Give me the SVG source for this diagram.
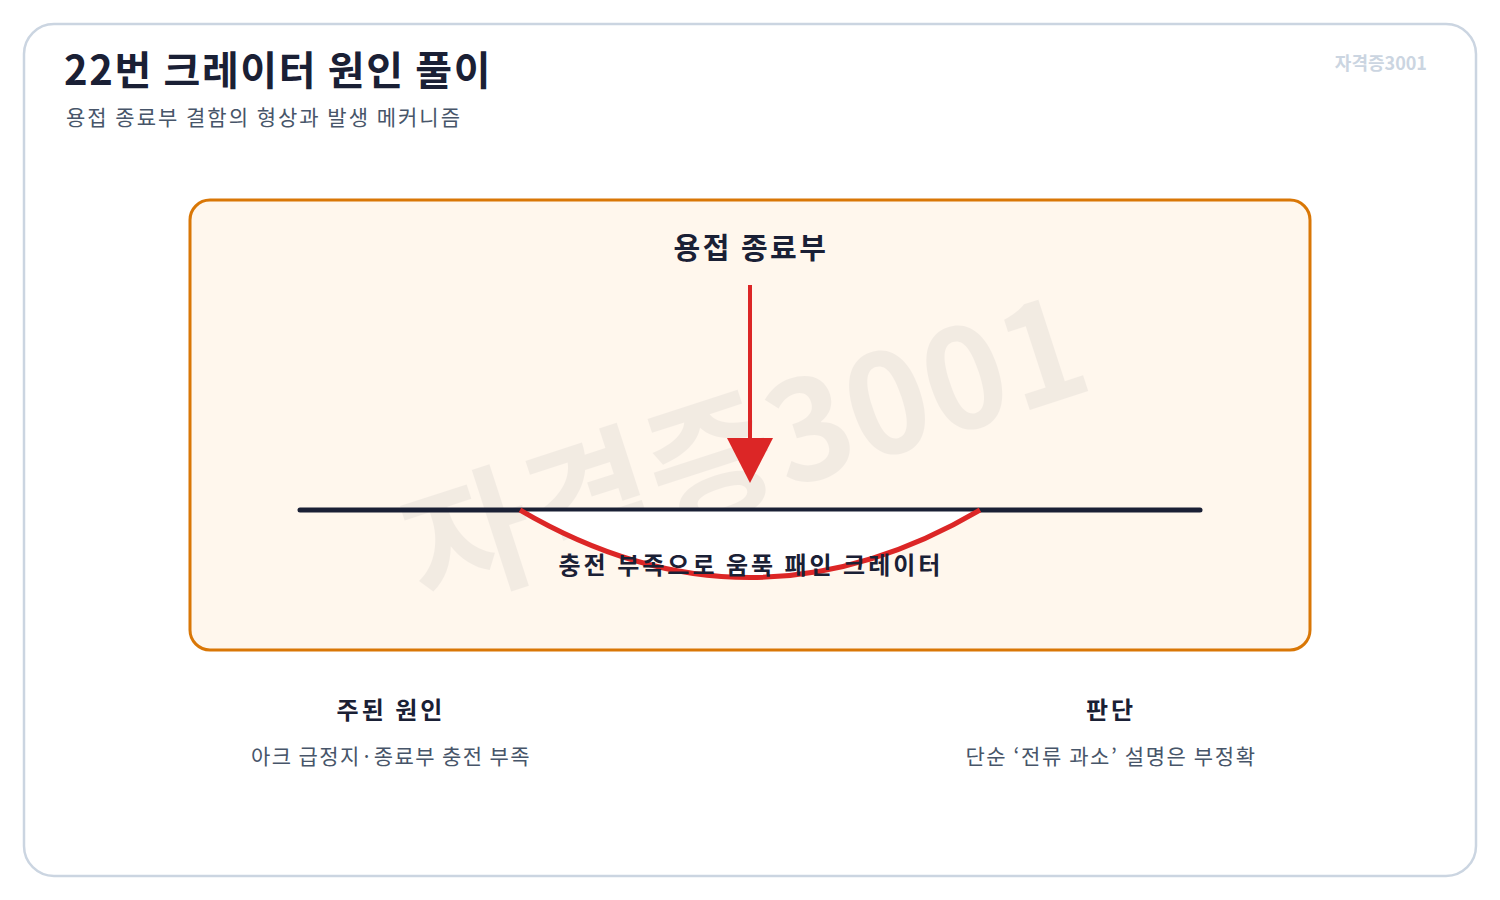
<svg xmlns="http://www.w3.org/2000/svg" width="1500" height="900" viewBox="0 0 1500 900">
<defs>
<style>
.t{font-family:"Noto Sans CJK KR","Noto Sans",sans-serif;fill:#1a2035}
.b{font-weight:700}
.sub{fill:#475569;font-weight:400}
</style>
</defs>
<rect width="1500" height="900" fill="#ffffff"/>
<rect x="24" y="24" width="1452" height="852" rx="30" fill="#ffffff" stroke="#cbd5e1" stroke-width="2.5"/>
<g id="title">
<text class="t b" x="64" y="85" font-size="40" letter-spacing="1.6">22번 크레이터 원인 풀이</text>
<text class="t sub" x="66" y="125" font-size="21" letter-spacing="2">용접 종료부 결함의 형상과 발생 메커니즘</text>
<text class="t b" x="1427" y="70" font-size="18" text-anchor="end" style="fill:#cbd5e1">자격증3001</text>
</g>
<g id="panel">
<rect x="190" y="200" width="1120" height="450" rx="20" fill="#fff7ed" stroke="#d97706" stroke-width="3"/>
<text class="t b" x="745" y="500" font-size="138" text-anchor="middle" transform="rotate(-18 745 450)" style="fill:#1a2035;opacity:0.05">자격증3001</text>
</g>
<g id="weld-end">
<text class="t b" x="751" y="259" font-size="29" text-anchor="middle" letter-spacing="2.5">용접 종료부</text>
</g>
<g id="surface">
<line x1="300" y1="510" x2="1200" y2="510" stroke="#1a2035" stroke-width="5" stroke-linecap="round"/>
</g>
<g id="crater">
<path d="M520,510 Q750,645 980,510 Z" fill="#ffffff" stroke="none"/>
<line x1="520" y1="510" x2="980" y2="510" stroke="#1a2035" stroke-width="3"/>
<path d="M520,510 Q750,645 980,510" fill="none" stroke="#dc2626" stroke-width="5"/>
<text class="t b" x="751" y="574" font-size="24" text-anchor="middle" letter-spacing="3">충전 부족으로 움푹 패인 크레이터</text>
</g>
<g id="connectors">
<line x1="750" y1="285" x2="750" y2="442" stroke="#dc2626" stroke-width="4"/>
<polygon points="727,438 773,438 750,483" fill="#dc2626"/>
</g>
<g id="cause">
<text class="t b" x="391" y="719" font-size="24" text-anchor="middle" letter-spacing="3">주된 원인</text>
<text class="t sub" x="391" y="764" font-size="21" text-anchor="middle" letter-spacing="1.4">아크 급정지·종료부 충전 부족</text>
</g>
<g id="judgement">
<text class="t b" x="1111" y="719" font-size="24" text-anchor="middle" letter-spacing="3">판단</text>
<text class="t sub" x="1111" y="764" font-size="21" text-anchor="middle" letter-spacing="1.6">단순 ‘전류 과소’ 설명은 부정확</text>
</g>
</svg>
